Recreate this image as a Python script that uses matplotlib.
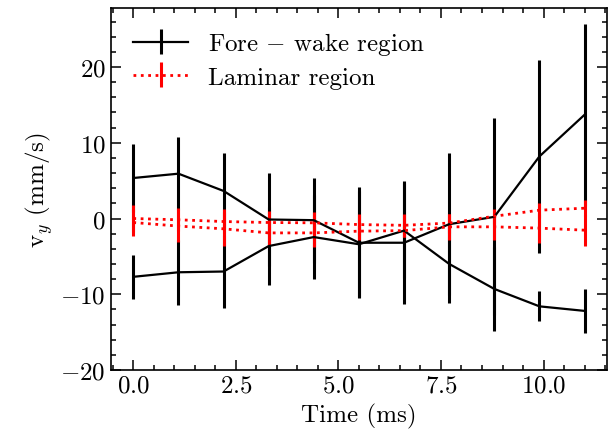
import numpy as np
import matplotlib
matplotlib.use("Agg")
import matplotlib.pyplot as plt
from matplotlib.ticker import AutoMinorLocator, MultipleLocator

# temps (ms)
temps = [0.0, 1.1, 2.2, 3.3, 4.4, 5.5, 6.6, 7.7, 8.8, 9.9, 11.0]

# region fore-wake (deux courbes)
fore_a = [5.35, 5.92, 3.64, -0.13, -0.22, -3.2, -3.2, -0.75, 0.22, 8.2, 13.7]
fore_a_err = [4.43, 4.83, 5.0, 6.1, 5.6, 7.3, 8.1, 9.4, 13.0, 12.7, 12.0]
fore_b = [-7.7, -7.1, -7.0, -3.64, -2.45, -3.4, -1.6, -6.0, -9.3, -11.6, -12.2]
fore_b_err = [2.9, 4.3, 4.84, 5.15, 5.5, 7.0, 6.3, 5.2, 5.5, 2.0, 2.95]

# region laminaire (deux courbes)
lam_a = [0.0, -0.17, -0.4, -0.53, -0.57, -0.8, -0.9, -0.6, 0.3, 1.1, 1.36]
lam_a_err = [1.75, 1.5, 1.63, 1.5, 1.37, 1.37, 1.5, 1.26, 1.0, 0.97, 1.04]
lam_b = [-0.53, -1.0, -1.36, -1.9, -1.9, -1.67, -1.6, -1.1, -1.1, -1.27, -1.54]
lam_b_err = [1.75, 2.1, 2.24, 1.6, 1.8, 1.2, 0.8, 1.75, 1.75, 1.93, 2.06]

plt.rcParams["font.family"] = "serif"
plt.rcParams["font.serif"] = ["cmr10"]
plt.rcParams["mathtext.fontset"] = "cm"
plt.rcParams["axes.formatter.use_mathtext"] = True
plt.rcParams["font.size"] = 18

fig = plt.figure(figsize=(6.12, 4.39), dpi=100)
ax = fig.add_axes([0.181, 0.155, 0.811, 0.8245])

ax.errorbar(temps, fore_a, yerr=fore_a_err, color="black", lw=1.6, elinewidth=2.2,
            capsize=0, label=r"Fore $-$ wake region")
ax.errorbar(temps, fore_b, yerr=fore_b_err, color="black", lw=1.6, elinewidth=2.2,
            capsize=0)
ax.errorbar(temps, lam_a, yerr=lam_a_err, color="red", ls=":", lw=2, elinewidth=2.2,
            capsize=0, label="Laminar region")
ax.errorbar(temps, lam_b, yerr=lam_b_err, color="red", ls=":", lw=2, elinewidth=2.2,
            capsize=0)

ax.set_ylim(-20, 27.8)
ax.set_xlabel("Time (ms)")
ax.set_ylabel(r"v$_y$ (mm/s)")

ax.xaxis.set_major_locator(MultipleLocator(2.5))
ax.xaxis.set_minor_locator(AutoMinorLocator(5))
ax.yaxis.set_minor_locator(AutoMinorLocator(5))
ax.tick_params(which="both", direction="in", top=True, right=True, width=1.1)
ax.tick_params(which="major", length=7)
ax.tick_params(which="minor", length=3.5)
for s in ax.spines.values():
    s.set_linewidth(1.2)

ax.legend(loc="upper left", frameon=False, fontsize=18, handlelength=2.2,
          labelspacing=0.35)

fig.savefig("out.png", dpi=100)
